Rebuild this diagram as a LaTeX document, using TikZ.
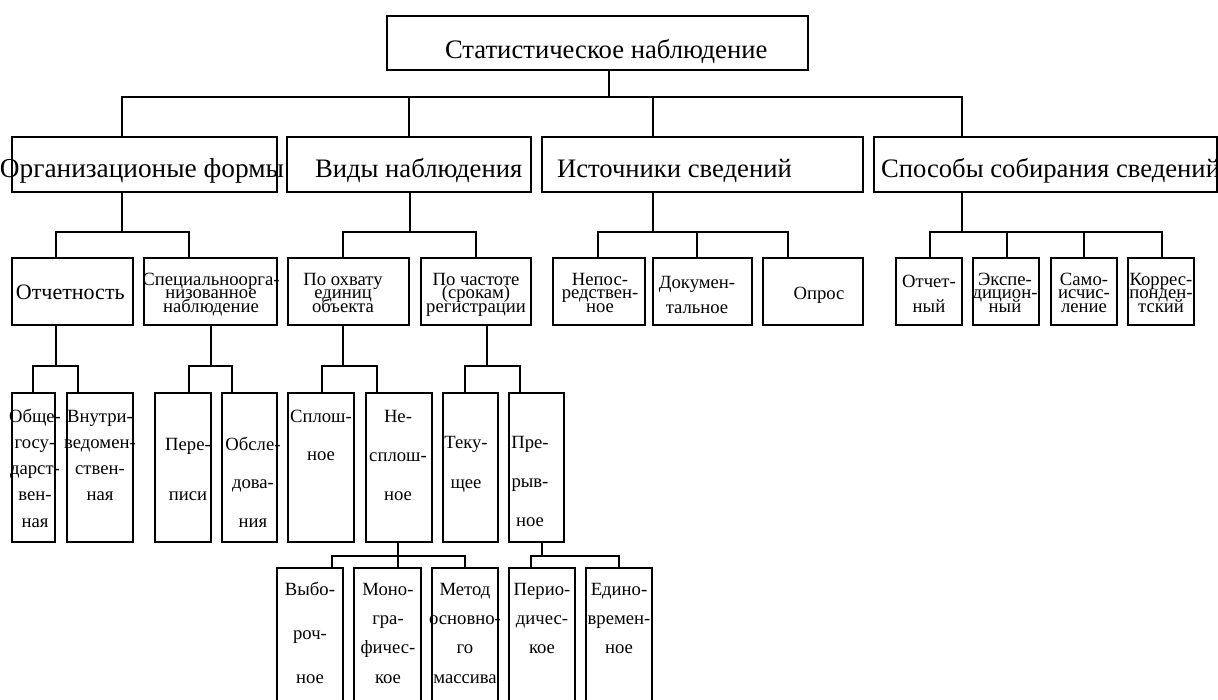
\documentclass[tikz,border=0pt]{standalone}
\usepackage{fontspec}
\setmainfont{Liberation Serif}
\newcommand\ml[2]{\vtop{\baselineskip=#1\lineskiplimit=-\maxdimen\halign{\hfil##\hfil\cr#2\crcr}}}
\newcommand\bx[5]{\node[bx, minimum width={(#4-#2)*0.75pt}, minimum height={(#5-#3)*0.75pt}] (#1) at ({(#2+#4)/2},{(#3+#5)/2}) {};}
\tikzset{
  bx/.style={draw, line width=1.4pt, rectangle, inner sep=0pt, outer sep=0pt},
  ln/.style={line width=1.4pt},
  tx/.style={inner sep=0pt, outer sep=0pt, anchor=base},
  big/.style={font=\fontsize{20}{24}\selectfont},
  mid/.style={font=\fontsize{16.5}{19}\selectfont},
  sm/.style={font=\fontsize{14}{16}\selectfont}
}
\begin{document}
\begin{tikzpicture}[x=0.75pt,y=-0.75pt]
\useasboundingbox (0,0) rectangle (1218,700);
% boxes
\bx{top}{387}{16}{808}{70}
\bx{org}{12}{137}{277}{192}
\bx{vid}{287}{137}{531}{192}
\bx{ist}{542}{137}{863}{192}
\bx{spo}{874}{137}{1217}{192}
\bx{otch}{12}{258}{133}{325}
\bx{spec}{144}{258}{277}{325}
\bx{ohv}{288}{258}{409}{325}
\bx{chas}{421}{258}{531}{325}
\bx{nep}{553}{258}{645}{325}
\bx{dok}{653}{258}{752}{325}
\bx{opr}{763}{258}{863}{325}
\bx{otn}{896}{258}{962}{325}
\bx{eks}{973}{258}{1039}{325}
\bx{sam}{1051}{258}{1117}{325}
\bx{kor}{1128}{258}{1194}{325}
\bx{obs}{12}{393}{55}{542}
\bx{vnu}{67}{393}{133}{542}
\bx{per}{155}{393}{211}{542}
\bx{obl}{222}{393}{277}{542}
\bx{spl}{288}{393}{354}{542}
\bx{nsp}{366}{393}{432}{542}
\bx{tek}{443}{393}{498}{542}
\bx{pre}{509}{393}{564}{542}
\bx{vyb}{277}{568}{343}{704}
\bx{mon}{354}{568}{421}{704}
\bx{met}{432}{568}{498}{704}
\bx{prd}{509}{568}{575}{704}
\bx{edi}{586}{568}{652}{704}
% connectors
\draw[ln] (top.south -| 609,0) -- (609,97);
\draw[ln] (org.north -| 122,0) -- (122,97) -- (962,97) -- (spo.north -| 962,0);
\draw[ln] (vid.north -| 409,0) -- (409,97);
\draw[ln] (ist.north -| 653,0) -- (653,97);
\draw[ln] (org.south -| 122,0) -- (122,232);
\draw[ln] (otch.north -| 56,0) -- (56,232) -- (189,232) -- (spec.north -| 189,0);
\draw[ln] (vid.south -| 410,0) -- (410,232);
\draw[ln] (ohv.north -| 343,0) -- (343,232) -- (476,232) -- (chas.north -| 476,0);
\draw[ln] (ist.south -| 653,0) -- (653,232);
\draw[ln] (nep.north -| 598,0) -- (598,232) -- (788,232) -- (opr.north -| 788,0);
\draw[ln] (dok.north -| 697,0) -- (697,232);
\draw[ln] (spo.south -| 962,0) -- (962,232);
\draw[ln] (otn.north -| 930,0) -- (930,232) -- (1162,232) -- (kor.north -| 1162,0);
\draw[ln] (eks.north -| 1007,0) -- (1007,232);
\draw[ln] (sam.north -| 1084,0) -- (1084,232);
\draw[ln] (otch.south -| 56,0) -- (56,366);
\draw[ln] (obs.north -| 33,0) -- (33,366) -- (78,366) -- (vnu.north -| 78,0);
\draw[ln] (spec.south -| 211,0) -- (211,366);
\draw[ln] (per.north -| 189,0) -- (189,366) -- (232,366) -- (obl.north -| 232,0);
\draw[ln] (ohv.south -| 343,0) -- (343,366);
\draw[ln] (spl.north -| 322,0) -- (322,366) -- (377,366) -- (nsp.north -| 377,0);
\draw[ln] (chas.south -| 487,0) -- (487,366);
\draw[ln] (tek.north -| 465,0) -- (465,366) -- (520,366) -- (pre.north -| 520,0);
\draw[ln] (nsp.south -| 398,0) -- (398,556);
\draw[ln] (vyb.north -| 332,0) -- (332,556) -- (465,556) -- (met.north -| 465,0);
\draw[ln] (mon.north -| 398,0) -- (398,556);
\draw[ln] (pre.south -| 542,0) -- (542,556);
\draw[ln] (prd.north -| 531,0) -- (531,556) -- (619,556) -- (edi.north -| 619,0);
% texts
\node[tx, anchor=base west, big] (ttop) at (445,58) {Статистическое наблюдение};
\node[tx, anchor=base east, big, font=\fontsize{20.5}{24}\selectfont] (torg) at (284,177) {Организационые формы};
\node[tx, anchor=base west, big] (tvid) at (315,177) {Виды наблюдения};
\node[tx, anchor=base west, big] (tist) at (557,177) {Источники сведений};
\node[tx, anchor=base west, big] (tspo) at (881,177) {Способы собирания сведений};
\node[tx, anchor=base west, mid] (totch) at (16,299) {Отчетность};
\node[tx, sm] (tspec) at (211,285) {\ml{10.2pt}{Специальноорга-\cr низованное\cr наблюдение}};
\node[tx, sm] (tohv) at (343,285) {\ml{10.2pt}{По охвату\cr единиц\cr объекта}};
\node[tx, sm] (tchas) at (476,285) {\ml{10.2pt}{По частоте\cr (срокам)\cr регистрации}};
\node[tx, sm] (tnep) at (600,285) {\ml{10.2pt}{Непос-\cr редствен-\cr ное}};
\node[tx, sm] (tdok) at (697,288) {\ml{18.75pt}{Докумен-\cr тальное}};
\node[tx, sm] (topr) at (819,299) {Опрос};
\node[tx, sm] (totn) at (929,287) {\ml{18.75pt}{Отчет-\cr ный}};
\node[tx, sm] (teks) at (1005,285) {\ml{10.2pt}{Экспе-\cr дицион-\cr ный}};
\node[tx, sm] (tsam) at (1084,285) {\ml{10.2pt}{Само-\cr исчис-\cr ление}};
\node[tx, sm] (tkor) at (1161,285) {\ml{10.2pt}{Коррес-\cr понден-\cr тский}};
\node[tx, sm] (tobs) at (35,422) {\ml{19.7pt}{Обще-\cr госу-\cr дарст-\cr вен-\cr ная}};
\node[tx, sm] (tvnu) at (100,422) {\ml{19.5pt}{Внутри-\cr ведомен-\cr ствен-\cr ная}};
\node[tx, sm] (tper) at (188,450) {\ml{37.5pt}{Пере-\cr писи}};
\node[tx, sm] (tobl) at (253,450) {\ml{28.9pt}{Обсле-\cr дова-\cr ния}};
\node[tx, sm] (tspl) at (321,422) {\ml{28.5pt}{Сплош-\cr ное}};
\node[tx, sm] (tnsp) at (398,422) {\ml{29.25pt}{Не-\cr сплош-\cr ное}};
\node[tx, sm] (ttek) at (466,448) {\ml{30pt}{Теку-\cr щее}};
\node[tx, sm] (tpre) at (530,448) {\ml{29.6pt}{Пре-\cr рыв-\cr ное}};
\node[tx, sm] (tvyb) at (310,595) {\ml{33pt}{Выбо-\cr роч-\cr ное}};
\node[tx, sm] (tmon) at (388,595) {\ml{22pt}{Моно-\cr гра-\cr фичес-\cr кое}};
\node[tx, sm] (tmet) at (465,595) {\ml{22pt}{Метод\cr основно-\cr го\cr массива}};
\node[tx, sm] (tprd) at (542,595) {\ml{22pt}{Перио-\cr дичес-\cr кое}};
\node[tx, sm] (tedi) at (619,595) {\ml{22pt}{Едино-\cr времен-\cr ное}};
\end{tikzpicture}
\end{document}
